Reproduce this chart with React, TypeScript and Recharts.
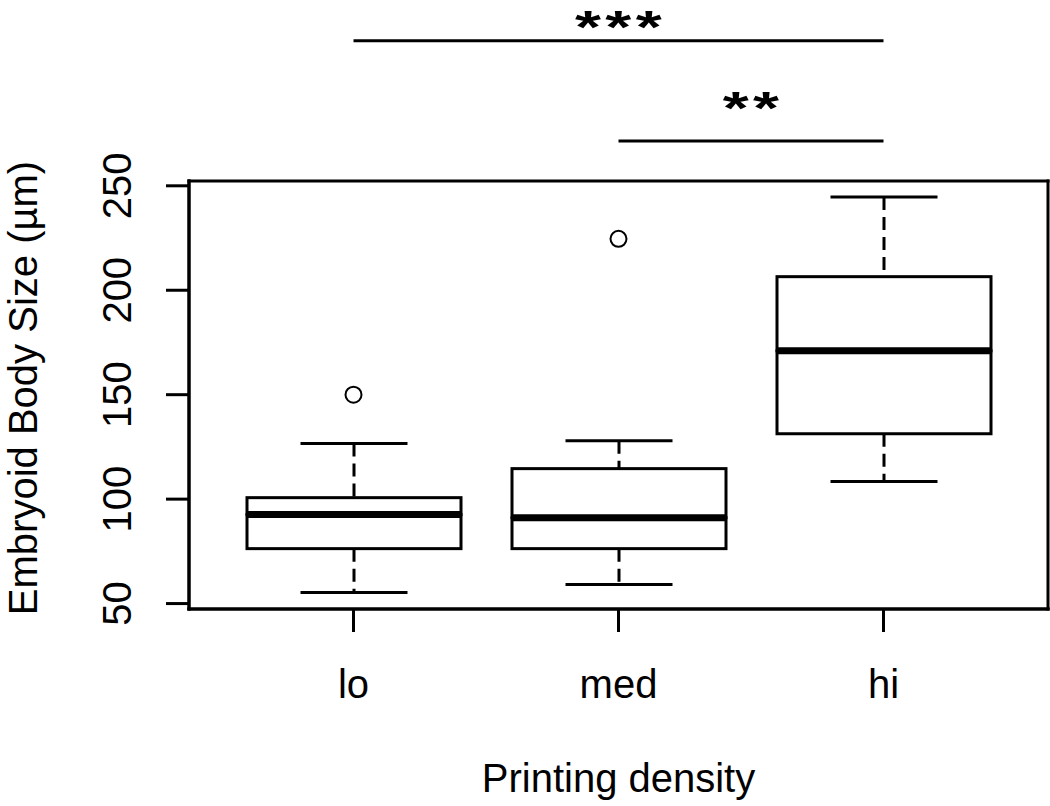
import { ComposedChart, Bar, Scatter, XAxis, YAxis, ReferenceLine, CartesianGrid } from "recharts";

// box plot statistics (µm)
const groups = ["lo", "med", "hi"];
const whiskerLow = [55.3, 59.1, 108.4];
const q1 = [76.3, 76.3, 131.3];
const median = [92.6, 91.1, 171];
const q3 = [100.7, 114.6, 206.5];
const whiskerHigh = [126.6, 128, 244.7];
const outliers = [150, 224.6, null];

const yTicks = [50, 100, 150, 200, 250];
const yDomain = [47.4, 252.3];

// significance brackets above the plot
const sigBars = [
  { from: "lo", to: "hi", y: 319.4, label: "***" },
  { from: "med", to: "hi", y: 271.5, label: "**" },
];
const sigLabelDy = [2, -17];

const data = groups.map((name, i) => ({
  name,
  base: whiskerLow[i],
  lowWhisker: q1[i] - whiskerLow[i],
  lowerBox: median[i] - q1[i],
  upperBox: q3[i] - median[i],
  highWhisker: whiskerHigh[i] - q3[i],
  outlier: outliers[i],
}));

const FONT = "'Liberation Sans', Arial, sans-serif";
const INK = "#000";

const Empty = () => null;

const LowWhisker = (props: any) => {
  const { x, y, width, height } = props;
  const cx = x + width / 2;
  const cap = width / 4;
  return (
    <g>
      <line x1={cx} x2={cx} y1={y} y2={y + height} stroke={INK} strokeWidth={3} strokeDasharray="13 7" />
      <line x1={cx - cap} x2={cx + cap} y1={y + height} y2={y + height} stroke={INK} strokeWidth={3} />
    </g>
  );
};

const HighWhisker = (props: any) => {
  const { x, y, width, height } = props;
  const cx = x + width / 2;
  const cap = width / 4;
  return (
    <g>
      <line x1={cx} x2={cx} y1={y} y2={y + height} stroke={INK} strokeWidth={3} strokeDasharray="13 7" />
      <line x1={cx - cap} x2={cx + cap} y1={y} y2={y} stroke={INK} strokeWidth={3} />
    </g>
  );
};

const LowerBox = (props: any) => {
  const { x, y, width, height } = props;
  return <rect x={x} y={y} width={width} height={height} fill="#fff" stroke={INK} strokeWidth={3} />;
};

const UpperBox = (props: any) => {
  const { x, y, width, height } = props;
  return (
    <g>
      <rect x={x} y={y} width={width} height={height} fill="#fff" stroke={INK} strokeWidth={3} />
      <line x1={x} x2={x + width} y1={y + height} y2={y + height} stroke={INK} strokeWidth={7} />
    </g>
  );
};

const Outlier = (props: any) => {
  const { cx, cy, payload } = props;
  if (payload == null || payload.outlier == null || cy == null || isNaN(cy)) return null;
  return <circle cx={cx} cy={cy} r={8} fill="none" stroke={INK} strokeWidth={2} />;
};

const XTick = (props: any) => {
  const { x, y, payload } = props;
  return (
    <text x={x} y={y + 64} textAnchor="middle" fontSize={40} fontFamily={FONT} fill={INK}>
      {payload.value}
    </text>
  );
};

const YTick = (props: any) => {
  const { x, y, payload } = props;
  const bx = x - 33;
  return (
    <text x={bx} y={y} transform={`rotate(-90, ${bx}, ${y})`} textAnchor="middle" fontSize={40} fontFamily={FONT} fill={INK}>
      {payload.value}
    </text>
  );
};

const XTitle = (props: any) => {
  const vb = props.viewBox;
  return (
    <text x={vb.x + vb.width / 2} y={792} textAnchor="middle" fontSize={40} fontFamily={FONT} fill={INK}>
      Printing density
    </text>
  );
};

const YTitle = (props: any) => {
  const vb = props.viewBox;
  const bx = vb.x + 37;
  const cy = vb.y + vb.height / 2 - 7;
  return (
    <text x={bx} y={cy} transform={`rotate(-90, ${bx}, ${cy})`} textAnchor="middle" fontSize={40} fontFamily={FONT} fill={INK}>
      Embryoid Body Size (µm)
    </text>
  );
};

const sigLabel = (text: string, dy: number) => (props: any) => {
  const vb = props.viewBox;
  const cx = vb.x + vb.width / 2 + 2;
  const by = vb.y + dy;
  return (
    <text
      x={0}
      y={0}
      transform={`translate(${cx}, ${by}) scale(1.45, 1)`}
      textAnchor="middle"
      fontSize={46}
      fontWeight="bold"
      letterSpacing={3}
      fontFamily={FONT}
      fill={INK}
    >
      {text}
    </text>
  );
};

const axisLine = { stroke: INK, strokeWidth: 3, strokeLinecap: "square" as const };
const tickLine = { stroke: INK, strokeWidth: 3 };

// plot frame: lines on the four edges of the plotting region
const frameRows = (p: any) => [p.offset.top, p.offset.top + p.offset.height];
const frameCols = (p: any) => [p.offset.left, p.offset.left + p.offset.width];

export default function App() {
  return (
    <div style={{ position: "absolute", left: 0, top: 0, width: 1050, height: 806, background: "#fff" }}>
      <ComposedChart
        width={1050}
        height={806}
        data={data}
        margin={{ top: 181, right: 2, bottom: 77, left: 0 }}
        style={{ overflow: "visible" }}
      >
        <CartesianGrid
          stroke={INK}
          strokeWidth={3}
          strokeLinecap="square"
          horizontalCoordinatesGenerator={frameRows}
          verticalCoordinatesGenerator={frameCols}
        />
        <XAxis
          dataKey="name"
          height={120}
          padding={{ left: 32, right: 32 }}
          axisLine={axisLine}
          tickLine={tickLine}
          tickSize={23}
          tick={<XTick />}
          interval={0}
          label={XTitle}
        />
        <YAxis
          type="number"
          width={189}
          domain={yDomain}
          ticks={yTicks}
          allowDataOverflow
          axisLine={axisLine}
          tickLine={tickLine}
          tickSize={23}
          tick={<YTick />}
          interval={0}
          label={YTitle}
        />
        <Bar dataKey="base" stackId="box" barSize={214} shape={<Empty />} isAnimationActive={false} />
        <Bar dataKey="lowWhisker" stackId="box" barSize={214} shape={<LowWhisker />} isAnimationActive={false} />
        <Bar dataKey="lowerBox" stackId="box" barSize={214} shape={<LowerBox />} isAnimationActive={false} />
        <Bar dataKey="upperBox" stackId="box" barSize={214} shape={<UpperBox />} isAnimationActive={false} />
        <Bar dataKey="highWhisker" stackId="box" barSize={214} shape={<HighWhisker />} isAnimationActive={false} />
        <Scatter dataKey="outlier" shape={<Outlier />} isAnimationActive={false} />
        {sigBars.map((s, i) => (
          <ReferenceLine
            key={s.label}
            segment={[
              { x: s.from, y: s.y },
              { x: s.to, y: s.y },
            ]}
            ifOverflow="visible"
            stroke={INK}
            strokeWidth={3}
            label={sigLabel(s.label, sigLabelDy[i])}
          />
        ))}
      </ComposedChart>
    </div>
  );
}
